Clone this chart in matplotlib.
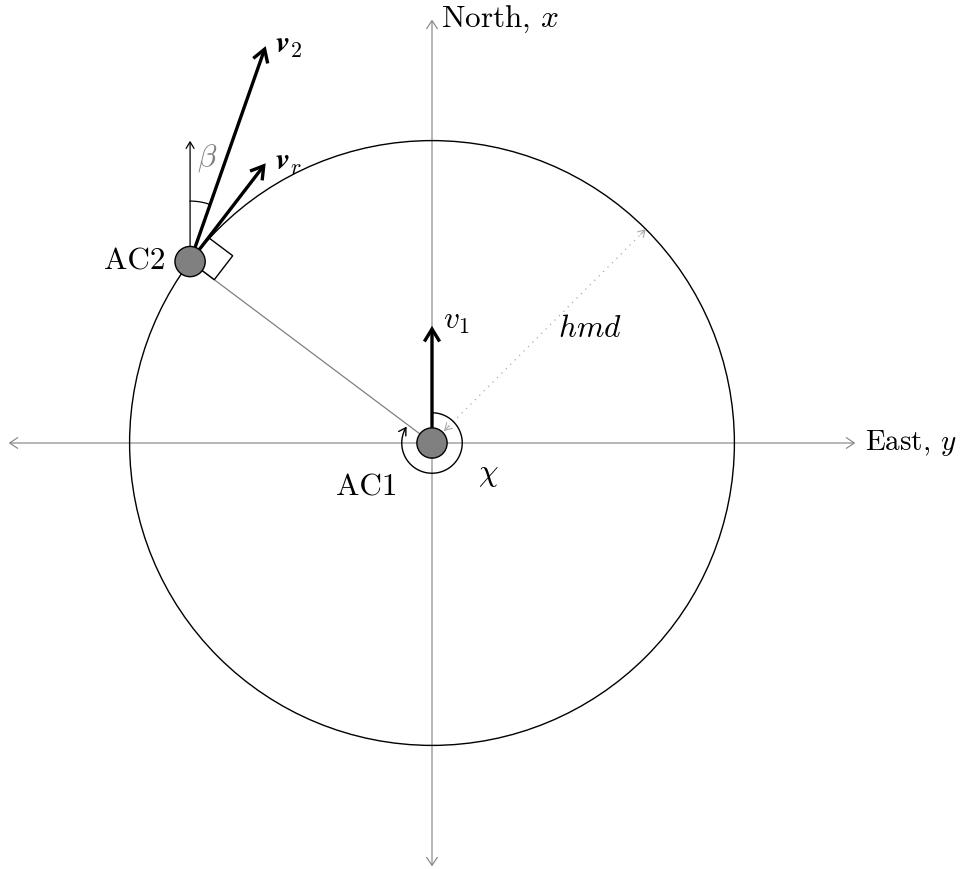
import numpy as np
import matplotlib
matplotlib.use("Agg")
import matplotlib.pyplot as plt
from matplotlib.patches import Circle, FancyArrowPatch, Polygon
from matplotlib.path import Path

plt.rcParams["mathtext.fontset"] = "cm"
plt.rcParams["font.family"] = ["cmr10", "DejaVu Serif"]
plt.rcParams["axes.unicode_minus"] = False
plt.rcParams["axes.formatter.use_mathtext"] = True

# ---- geometry (units ~ cm, 1 unit = 37.8 px) ----
hmd = 8.0
ac2_angle = 143.13          # polar angle of AC2 (deg, from east)
v1 = (0.0, 3.1)
v2 = (2.0, 5.7)
axis_len = 11.2
north_len = 3.2             # reference north arrow at AC2
beta_r = 1.6
chi_r = 0.8
hmd_angle = 45.0
node_r = 0.4

SCALE = 37.8
W, H = 960, 869
CX, CY = 432, 443

fig = plt.figure(figsize=(W / 100, H / 100), dpi=100)
ax = fig.add_axes([0, 0, 1, 1])
ax.set_xlim(-CX / SCALE, (W - CX) / SCALE)
ax.set_ylim(-(H - CY) / SCALE, CY / SCALE)
ax.axis("off")

GRAY = "#808080"
FS = 22.5


def arrow(p0, p1, lw, color="black", hl=6, hw=4, style="->", ls="-", sA=0, sB=0, z=3):
    a = FancyArrowPatch(p0, p1, arrowstyle=f"{style},head_length={hl},head_width={hw}",
                        lw=lw, color=color, linestyle=ls, shrinkA=sA, shrinkB=sB,
                        mutation_scale=1, zorder=z, joinstyle="miter", capstyle="butt")
    ax.add_patch(a)


# axes
arrow((-axis_len, 0), (axis_len, 0), 0.8, GRAY, z=1, style="<->")
arrow((0, -axis_len), (0, axis_len), 0.8, GRAY, z=1, style="<->")
ax.text(0.25, axis_len, r"North, $x$", fontsize=FS, ha="left", va="center")
ax.text(axis_len + 0.25, 0, r"East, $y$", fontsize=FS - 1.5, ha="left", va="center")

# protected zone circle
ax.add_patch(Circle((0, 0), hmd, fill=False, lw=1.0, color="black", zorder=2))

ac2 = np.array([hmd * np.cos(np.radians(ac2_angle)), hmd * np.sin(np.radians(ac2_angle))])
vr = np.array(v2) - np.array(v1)

# line AC2 -> AC1
ax.plot([ac2[0], 0], [ac2[1], 0], color=GRAY, lw=0.9, zorder=2)

# right angle mark
u_vr = vr / np.linalg.norm(vr)
u_rad = -ac2 / np.linalg.norm(ac2)
sq = 0.8
ax.add_patch(Polygon([ac2, ac2 + sq * u_vr, ac2 + sq * (u_vr + u_rad), ac2 + sq * u_rad],
                     closed=True, fill=False, lw=1.0, color="black", zorder=2))

# hmd dotted, with small solid heads at both ends
u_h = np.array([np.cos(np.radians(hmd_angle)), np.sin(np.radians(hmd_angle))])
h0 = 0.45 * u_h
h1 = hmd * u_h
ax.plot([h0[0], h1[0]], [h0[1], h1[1]], color="#aaaaaa", lw=0.9, ls=(0, (1, 4)), zorder=2)
arrow(tuple(h0 + 0.2 * u_h), tuple(h0), 0.8, "#aaaaaa", hl=5, hw=3, z=2)
arrow(tuple(h1 - 0.2 * u_h), tuple(h1), 0.8, "#aaaaaa", hl=5, hw=3, z=2)
ax.text(h1[0] * 0.64 + 0.55, h1[1] * 0.64 - 0.6, r"$hmd$", fontsize=FS, ha="center", va="center")

# chi arc
th = np.radians(np.linspace(90, ac2_angle - 360 + 4, 120))
arc = Path(np.column_stack([chi_r * np.cos(th), chi_r * np.sin(th)]))
ax.add_patch(FancyArrowPatch(path=arc, arrowstyle="->,head_length=5,head_width=3",
                             lw=1.0, color="black", mutation_scale=1, zorder=4))
ax.text(1.48, -0.85, r"$\chi$", fontsize=FS, ha="center", va="center")

# north reference + beta at AC2
arrow(tuple(ac2), (ac2[0], ac2[1] + north_len), 0.9, "black", hl=5, hw=3, z=3)
v2_ang = np.degrees(np.arctan2(v2[1], v2[0]))
tb = np.radians(np.linspace(90, v2_ang, 30))
ax.plot(ac2[0] + beta_r * np.cos(tb), ac2[1] + beta_r * np.sin(tb), color="black", lw=0.9, zorder=3)
ax.text(ac2[0] + 0.45, ac2[1] + 2.75, r"$\beta$", fontsize=FS, color=GRAY, ha="center", va="center")

# velocity vectors
arrow((0, 0), v1, 2.4, "black", hl=9, hw=5.5, z=5)
ax.text(v1[0] + 0.3, v1[1] + 0.1, r"$v_1$", fontsize=FS, ha="left", va="center")
arrow(tuple(ac2), tuple(ac2 + np.array(v2)), 2.4, "black", hl=9, hw=5.5, z=5)
ax.text(ac2[0] + v2[0] + 0.25, ac2[1] + v2[1], r"$\mathbfit{v}_2$", fontsize=FS, ha="left", va="center")
arrow(tuple(ac2), tuple(ac2 + vr), 2.4, "black", hl=9, hw=5.5, z=5)
ax.text(ac2[0] + vr[0] + 0.25, ac2[1] + vr[1], r"$\mathbfit{v}_r$", fontsize=FS, ha="left", va="center")

# aircraft nodes
for p, lab, off, ha in [((0, 0), "AC1", (-1.72, -1.19), "center"),
                        (tuple(ac2), "AC2", (-0.65, 0.0), "right")]:
    ax.add_patch(Circle(p, node_r, facecolor=GRAY, edgecolor="black", lw=1.0, zorder=6))
    ax.text(p[0] + off[0], p[1] + off[1], lab, fontsize=FS, ha=ha, va="center")

fig.savefig("out.png", dpi=100)
